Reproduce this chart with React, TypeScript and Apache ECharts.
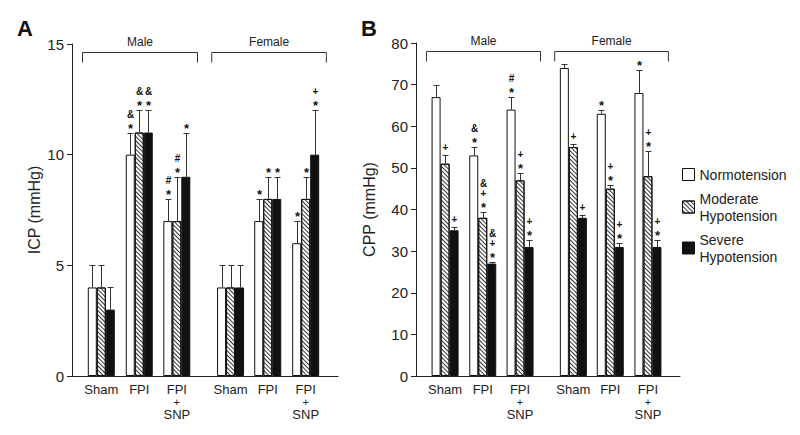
import React, { useEffect, useRef } from 'react';
import * as echarts from 'echarts';

// ---- data ----
const SEXES = ['Male', 'Female'];
const GROUP_LABELS = ['Sham', 'FPI', 'FPI\n+\nSNP', 'Sham', 'FPI', 'FPI\n+\nSNP'];
const SERIES_NAMES = ['Normotension', 'Moderate Hypotension', 'Severe Hypotension'];

// Panel A: ICP (mmHg)
const ICP_NORMO = [4, 10, 7, 4, 7, 6];
const ICP_NORMO_SEM = [1, 1, 1, 1, 1, 1];
const ICP_NORMO_SIG = ['', '&*', '#*', '', '*', '*'];
const ICP_MOD = [4, 11, 7, 4, 8, 8];
const ICP_MOD_SEM = [1, 1, 2, 1, 1, 1];
const ICP_MOD_SIG = ['', '&*', '#*', '', '*', '*'];
const ICP_SEV = [3, 11, 9, 4, 8, 10];
const ICP_SEV_SEM = [1, 1, 2, 1, 1, 2];
const ICP_SEV_SIG = ['', '&*', '*', '', '*', '+*'];

// Panel B: CPP (mmHg)
const CPP_NORMO = [67, 53, 64, 74, 63, 68];
const CPP_NORMO_SEM = [3, 2, 3, 1, 1, 5.5];
const CPP_NORMO_SIG = ['', '&*', '#*', '', '*', '*'];
const CPP_MOD = [51, 38, 47, 55, 45, 48];
const CPP_MOD_SEM = [2, 1.5, 1.7, 0.7, 0.8, 6];
const CPP_MOD_SIG = ['+', '&+*', '+*', '+', '+*', '+*'];
const CPP_SEV = [35, 27, 31, 38, 31, 31];
const CPP_SEV_SEM = [0.7, 0.5, 1.7, 0.7, 0.9, 1.7];
const CPP_SEV_SIG = ['+', '&+*', '+*', '+', '+*', '+*'];

const ICP_TICKS = { min: 0, max: 15, interval: 5 };
const CPP_TICKS = { min: 0, max: 80, interval: 10 };

// ---- layout ----
const GROUP_POS = [0.78, 1.79, 2.79, 4.22, 5.21, 6.22];
const X_MAX = 7.08;
const FONT = '"Liberation Sans", Arial, Helvetica, sans-serif';
const TXT = '#222';
const BAR_W = 9;

const BAR_STYLES = [
  { color: '#ffffff', borderColor: '#111', borderWidth: 1 },
  {
    color: '#ffffff',
    borderColor: '#111',
    borderWidth: 1,
    decal: {
      symbol: 'rect',
      symbolSize: 1,
      dashArrayX: [1, 0],
      dashArrayY: [1, 1.6],
      rotation: Math.PI / 4,
      color: '#333',
    },
  },
  { color: '#111111', borderColor: '#111', borderWidth: 1 },
];

function sigFont(c: string) {
  if (c === '*') return `bold 13px ${FONT}`;
  return `bold 10px ${FONT}`;
}

function makePanel(g: number, vals: number[][], sems: number[][], sigs: string[][], yMax: number) {
  const series: any[] = [];
  vals.forEach((v, s) => {
    series.push({
      type: 'bar',
      name: SERIES_NAMES[s],
      xAxisIndex: g,
      yAxisIndex: g,
      barWidth: BAR_W,
      barGap: '0%',
      silent: true,
      itemStyle: BAR_STYLES[s],
      data: GROUP_POS.map((p, i) => [p, v[i]]),
    });
  });
  vals.forEach((v, s) => {
    const offset = (s - 1) * BAR_W;
    const sig = sigs[s];
    series.push({
      type: 'custom',
      xAxisIndex: g,
      yAxisIndex: g,
      silent: true,
      z: 5,
      encode: { x: 0, y: [1, 2] },
      data: GROUP_POS.map((p, i) => [p, v[i], v[i] + sems[s][i]]),
      renderItem: (params: any, api: any) => {
        const top = api.coord([api.value(0), api.value(2)]);
        const base = api.coord([api.value(0), api.value(1)]);
        const x = Math.round(top[0] + offset) + 0.5;
        const ty = Math.round(top[1]) + 0.5;
        const children: any[] = [
          { type: 'line', shape: { x1: x, y1: base[1], x2: x, y2: ty }, style: { stroke: '#333', lineWidth: 1 } },
          { type: 'line', shape: { x1: x - 3, y1: ty, x2: x + 3, y2: ty }, style: { stroke: '#333', lineWidth: 1 } },
        ];
        const chars = sig[params.dataIndex].split('').reverse();
        chars.forEach((c, k) => {
          const cy = ty - 8.5 - k * 10.5;
          children.push({
            type: 'text',
            x,
            y: cy + (c === '*' ? 3 : 0),
            style: { text: c, fill: '#111', font: sigFont(c), align: 'center', verticalAlign: 'middle' },
          });
        });
        return { type: 'group', children };
      },
    });
  });
  // category labels under the axis (one text per line)
  series.push({
    type: 'custom',
    xAxisIndex: g,
    yAxisIndex: g,
    silent: true,
    data: GROUP_POS.map((p) => [p, 0]),
    renderItem: (params: any, api: any) => {
      const pt = api.coord([api.value(0), 0]);
      const lines = GROUP_LABELS[params.dataIndex].split('\n');
      return {
        type: 'group',
        children: lines.map((ln, k) => ({
          type: 'text',
          x: pt[0],
          y: pt[1] + 13 + k * 12.5,
          style: {
            text: ln,
            fill: TXT,
            font: `${ln === '+' ? 11 : 13}px ${FONT}`,
            align: 'center',
            verticalAlign: 'middle',
          },
        })),
      };
    },
  });
  // sex brackets
  series.push({
    type: 'custom',
    xAxisIndex: g,
    yAxisIndex: g,
    silent: true,
    data: SEXES.map((s, i) => [GROUP_POS[i * 3], 0]),
    renderItem: (params: any, api: any) => {
      const i = params.dataIndex;
      const a = api.coord([GROUP_POS[i * 3] - 0.5, yMax]);
      const b = api.coord([GROUP_POS[i * 3 + 2] + 0.55, yMax]);
      const y = Math.round(a[1] + 8) + 0.5;
      return {
        type: 'group',
        children: [
          {
            type: 'polyline',
            shape: { points: [[a[0], y + 10], [a[0], y], [b[0], y], [b[0], y + 10]] },
            style: { stroke: '#333', lineWidth: 1, fill: 'none' },
          },
          {
            type: 'text',
            x: (a[0] + b[0]) / 2,
            y: a[1] - 2,
            style: { text: SEXES[i], fill: TXT, font: `12px ${FONT}`, align: 'center', verticalAlign: 'middle' },
          },
        ],
      };
    },
  });
  return series;
}

function yAxis(g: number, ticks: any, name: string, nameGap: number) {
  return {
    type: 'value',
    gridIndex: g,
    min: ticks.min,
    max: ticks.max,
    interval: ticks.interval,
    name,
    nameLocation: 'middle',
    nameGap,
    nameTextStyle: { fontSize: 16, color: TXT, fontFamily: FONT },
    axisLine: { show: true, lineStyle: { color: '#222', width: 1 } },
    axisTick: { show: true, length: 5, lineStyle: { color: '#222' } },
    axisLabel: { fontSize: 15, color: TXT, fontFamily: FONT, margin: 8 },
    splitLine: { show: false },
  };
}

function xAxis(g: number) {
  return {
    type: 'value',
    gridIndex: g,
    min: 0,
    max: X_MAX,
    axisLine: { show: true, onZero: true, lineStyle: { color: '#222', width: 1 } },
    axisTick: { show: false },
    axisLabel: { show: false },
    splitLine: { show: false },
  };
}

export default function App() {
  const ref = useRef<HTMLDivElement>(null);
  useEffect(() => {
    if (!ref.current) return;
    const chart = echarts.init(ref.current, null, { renderer: 'svg' });
    const option: any = {
      animation: false,
      backgroundColor: '#ffffff',
      textStyle: { fontFamily: FONT },
      grid: [
        { left: 72, top: 44, width: 266, height: 332 },
        { left: 416, top: 43, width: 264, height: 333 },
      ],
      xAxis: [xAxis(0), xAxis(1)],
      yAxis: [yAxis(0, ICP_TICKS, 'ICP (mmHg)', 30), yAxis(1, CPP_TICKS, 'CPP (mmHg)', 39)],
      legend: {
        data: SERIES_NAMES,
        orient: 'vertical',
        left: 682,
        top: 166,
        padding: 0,
        itemWidth: 12,
        itemHeight: 12,
        itemGap: 7,
        icon: 'rect',
        selectedMode: false,
        formatter: (n: string) => n.replace(' ', '\n'),
        textStyle: { fontSize: 14, lineHeight: 17, color: TXT, fontFamily: FONT },
        itemStyle: { borderColor: '#111', borderWidth: 1 },
      },
      graphic: [
        { type: 'text', left: 17, top: 17, style: { text: 'A', font: `bold 22px ${FONT}`, fill: '#111' } },
        { type: 'text', left: 361, top: 17, style: { text: 'B', font: `bold 22px ${FONT}`, fill: '#111' } },
      ],
      series: [
        ...makePanel(0, [ICP_NORMO, ICP_MOD, ICP_SEV], [ICP_NORMO_SEM, ICP_MOD_SEM, ICP_SEV_SEM], [ICP_NORMO_SIG, ICP_MOD_SIG, ICP_SEV_SIG], ICP_TICKS.max),
        ...makePanel(1, [CPP_NORMO, CPP_MOD, CPP_SEV], [CPP_NORMO_SEM, CPP_MOD_SEM, CPP_SEV_SEM], [CPP_NORMO_SIG, CPP_MOD_SIG, CPP_SEV_SIG], CPP_TICKS.max),
      ],
    };
    chart.setOption(option);
    return () => chart.dispose();
  }, []);
  return <div ref={ref} style={{ position: 'fixed', left: 0, top: 0, width: 800, height: 435 }} />;
}
